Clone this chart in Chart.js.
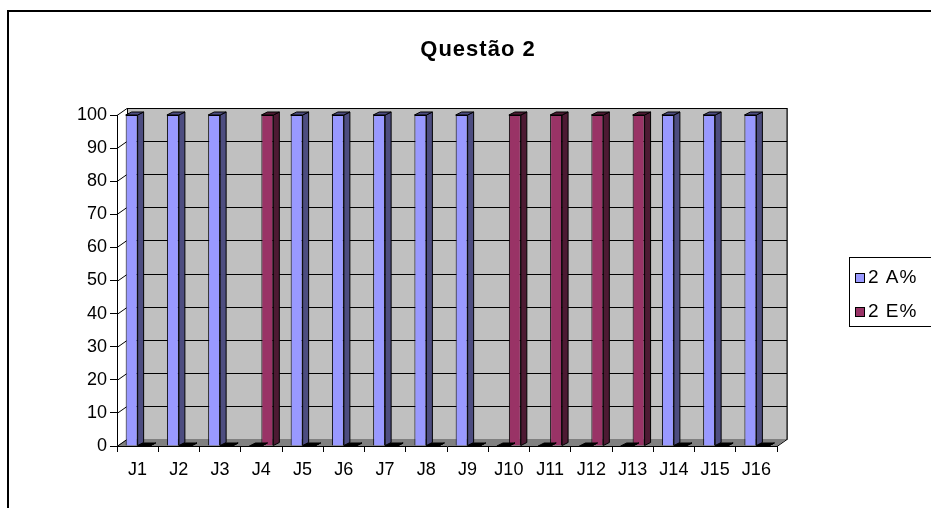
<!DOCTYPE html>
<html>
<head>
<meta charset="utf-8">
<script src="https://cdn.jsdelivr.net/npm/chart.js@4/dist/chart.umd.min.js"></script>
<style>
  html, body { margin: 0; padding: 0; background: #fff; }
  #wrap { width: 931px; height: 508px; }
</style>
</head>
<body>
<div id="wrap"><canvas id="chart" width="931" height="508"></canvas></div>
<script>
// values
var chartTitle = 'Questão 2';
var categories = ['J1','J2','J3','J4','J5','J6','J7','J8','J9','J10','J11','J12','J13','J14','J15','J16'];
var seriesA = [100,100,100,0,100,100,100,100,100,0,0,0,0,100,100,100];
var seriesE = [0,0,0,100,0,0,0,0,0,100,100,100,100,0,0,0];
var seriesNames = ['2 A%', '2 E%'];

var faceColors = ['#9999ff', '#993366'];
var sideColors = ['#4d4d80', '#4d1a33'];
var WALL_DX = 10, WALL_DY = -7;  // depth of the back wall
var BAR_DX = 6, BAR_DY = -3;     // depth of each column
var FONT = '"Liberation Sans", Arial, sans-serif';

// back wall, floor and gridlines, drawn behind the bars
var wallPlugin = {
  id: 'wall',
  beforeDatasetsDraw: function(chart) {
    var ctx = chart.ctx, a = chart.chartArea, y = chart.scales.y;
    ctx.save();
    // wall
    ctx.fillStyle = '#c0c0c0';
    ctx.fillRect(a.left + WALL_DX, a.top + WALL_DY, a.right - a.left, a.bottom - a.top);
    ctx.strokeStyle = '#808080';
    ctx.lineWidth = 1;
    ctx.strokeRect(a.left + WALL_DX + 0.5, a.top + WALL_DY + 0.5, a.right - a.left, a.bottom - a.top);
    // floor
    ctx.fillStyle = '#808080';
    ctx.beginPath();
    ctx.moveTo(a.left, a.bottom);
    ctx.lineTo(a.left + WALL_DX, a.bottom + WALL_DY);
    ctx.lineTo(a.right + WALL_DX, a.bottom + WALL_DY);
    ctx.lineTo(a.right, a.bottom);
    ctx.closePath();
    ctx.fill();
    // gridlines on the wall, with connectors to the front axis
    ctx.strokeStyle = '#000';
    ctx.lineWidth = 1;
    y.ticks.forEach(function(t) {
      var py = Math.round(y.getPixelForValue(t.value)) + 0.5;
      ctx.beginPath();
      ctx.moveTo(a.left, py);
      ctx.lineTo(a.left + WALL_DX, py + WALL_DY);
      if (t.value > 0) ctx.lineTo(a.right + WALL_DX, py + WALL_DY);
      ctx.stroke();
    });
    ctx.beginPath();
    ctx.moveTo(a.left + WALL_DX + 0.5, a.top + WALL_DY);
    ctx.lineTo(a.left + WALL_DX + 0.5, a.bottom + WALL_DY);
    ctx.moveTo(a.right, a.bottom + 0.5);
    ctx.lineTo(a.right + WALL_DX, a.bottom + WALL_DY + 0.5);
    ctx.lineTo(a.right + WALL_DX, a.top + WALL_DY);
    ctx.stroke();
    ctx.restore();
  },
  // side and top faces of each column
  afterDatasetsDraw: function(chart) {
    var ctx = chart.ctx;
    ctx.save();
    ctx.strokeStyle = '#000';
    ctx.lineWidth = 1;
    chart.data.datasets.forEach(function(ds, i) {
      chart.getDatasetMeta(i).data.forEach(function(bar) {
        var l = bar.x - bar.width / 2, r = bar.x + bar.width / 2;
        var top = bar.y, base = bar.base;
        ctx.fillStyle = sideColors[i];
        ctx.beginPath();
        ctx.moveTo(r, top);
        ctx.lineTo(r + BAR_DX, top + BAR_DY);
        ctx.lineTo(r + BAR_DX, base + BAR_DY);
        ctx.lineTo(r, base);
        ctx.closePath();
        ctx.fill(); ctx.stroke();
        ctx.fillStyle = base - top < 1 ? '#000' : sideColors[i];
        ctx.beginPath();
        ctx.moveTo(l, top);
        ctx.lineTo(l + BAR_DX, top + BAR_DY);
        ctx.lineTo(r + BAR_DX, top + BAR_DY);
        ctx.lineTo(r, top);
        ctx.closePath();
        ctx.fill(); ctx.stroke();
      });
    });
    ctx.restore();
  },
  afterDraw: function(chart) {
    var ctx = chart.ctx;
    ctx.save();
    // outer frame, runs past the right and bottom edges
    ctx.strokeStyle = '#000';
    ctx.lineWidth = 2;
    ctx.strokeRect(8, 11, 1000, 1000);
    // title
    ctx.fillStyle = '#000';
    ctx.font = 'bold 22px ' + FONT;
    ctx.letterSpacing = '1px';
    ctx.textAlign = 'center';
    ctx.textBaseline = 'middle';
    ctx.fillText(chartTitle, 478, 50);
    // legend
    ctx.letterSpacing = '1px';
    ctx.lineWidth = 1;
    ctx.fillStyle = '#fff';
    ctx.fillRect(849, 257, 120, 69);
    ctx.strokeRect(849.5, 257.5, 120, 69);
    ctx.font = '19px ' + FONT;
    ctx.textAlign = 'left';
    seriesNames.forEach(function(name, i) {
      var cy = 278 + i * 34;
      ctx.fillStyle = faceColors[i];
      ctx.fillRect(855.5, cy - 4.5, 9, 9);
      ctx.strokeStyle = '#000';
      ctx.strokeRect(855.5, cy - 4.5, 9, 9);
      ctx.fillStyle = '#000';
      ctx.fillText(name, 868, cy);
    });
    ctx.restore();
  }
};

new Chart(document.getElementById('chart'), {
  type: 'bar',
  data: {
    labels: categories,
    datasets: [
      { label: seriesNames[0], data: seriesA, backgroundColor: faceColors[0], borderColor: '#000', borderWidth: 1 },
      { label: seriesNames[1], data: seriesE, backgroundColor: faceColors[1], borderColor: '#000', borderWidth: 1 }
    ]
  },
  options: {
    responsive: false,
    animation: false,
    layout: { padding: { left: 57, right: 154, top: 115, bottom: 22 } },
    datasets: { bar: { barPercentage: 1, categoryPercentage: 0.58 } },
    plugins: { legend: { display: false }, title: { display: false }, tooltip: { enabled: false } },
    scales: {
      x: {
        offset: true,
        afterFit: function(s) { s.height = 40; },
        grid: { offset: true, drawOnChartArea: false, tickLength: 6, color: '#000' },
        border: { color: '#000' },
        ticks: { color: '#000', padding: 7, maxRotation: 0, autoSkip: false,
                 font: { family: FONT, size: 18 } }
      },
      y: {
        min: 0, max: 100,
        afterFit: function(s) { s.width = 60; },
        grid: { drawOnChartArea: false, tickLength: 7, color: '#000' },
        border: { color: '#000' },
        ticks: { stepSize: 10, color: '#000', padding: 3,
                 font: { family: FONT, size: 18 } }
      }
    }
  },
  plugins: [wallPlugin]
});
</script>
</body>
</html>
